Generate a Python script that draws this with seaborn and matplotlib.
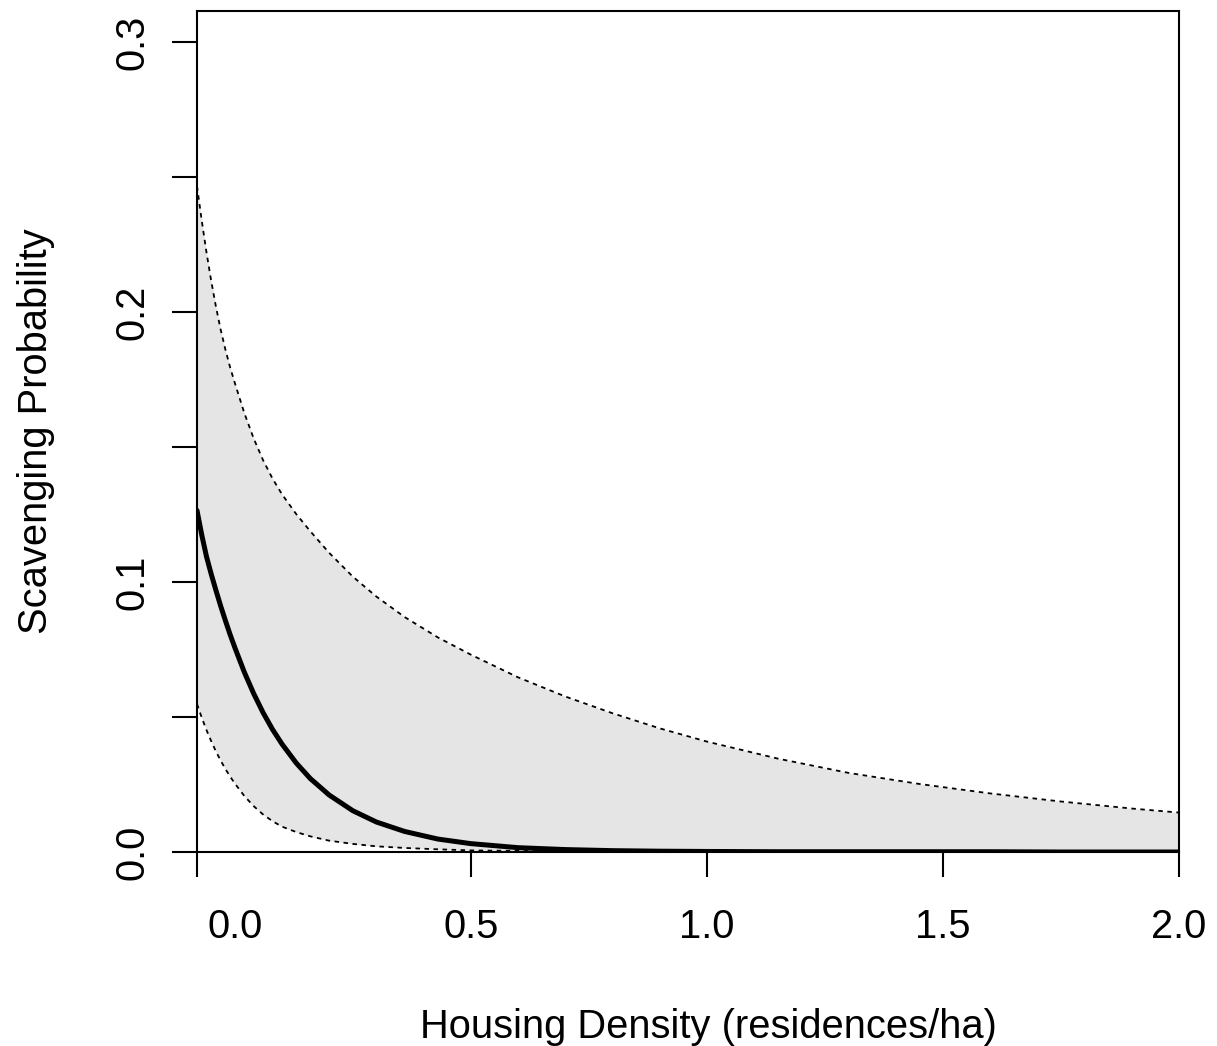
import numpy as np
import pandas as pd
import matplotlib
matplotlib.use("Agg")
import matplotlib.pyplot as plt
import seaborn as sns

# ---- data ----
density = [-0.08, -0.07, -0.06, -0.05, -0.04, -0.03, -0.02, -0.01, 0.00,
           0.02, 0.04, 0.06, 0.08, 0.10, 0.13, 0.16, 0.20, 0.25, 0.30,
           0.36, 0.43, 0.50, 0.60, 0.70, 0.80, 0.90, 1.00, 1.15, 1.30,
           1.45, 1.60, 1.75, 1.90, 2.00]
mean_prob = [0.1265, 0.1175, 0.1095, 0.1030, 0.0970, 0.0912, 0.0858, 0.0806, 0.0758,
             0.0667, 0.0587, 0.0516, 0.0454, 0.0400, 0.0330, 0.0272, 0.0211, 0.0153, 0.0111,
             0.0076, 0.0048, 0.0031, 0.0016, 0.0009, 0.0005, 0.0003, 0.0002, 0.0001, 0.0001,
             0.0001, 0.0001, 0.0000, 0.0000, 0.0000]
lower_ci = [0.0548, 0.0498, 0.0452, 0.0411, 0.0373, 0.0339, 0.0308, 0.0280, 0.0254,
            0.0208, 0.0170, 0.0139, 0.0114, 0.0094, 0.0074, 0.0058, 0.0042, 0.0030, 0.0021,
            0.0015, 0.0010, 0.0006, 0.0004, 0.0002, 0.0001, 0.0001, 0.0000, 0.0000, 0.0000,
            0.0000, 0.0000, 0.0000, 0.0000, 0.0000]
upper_ci = [0.2466, 0.2339, 0.2222, 0.2116, 0.2021, 0.1936, 0.1862, 0.1796, 0.1738,
            0.1627, 0.1532, 0.1451, 0.1383, 0.1325, 0.1252, 0.1188, 0.1108, 0.1020, 0.0946,
            0.0870, 0.0795, 0.0731, 0.0647, 0.0576, 0.0514, 0.0458, 0.0409, 0.0346, 0.0293,
            0.0252, 0.0217, 0.0187, 0.0161, 0.0146]

x_ticks = [0.0, 0.5, 1.0, 1.5, 2.0]
x_tick_labels = ["0.0", "0.5", "1.0", "1.5", "2.0"]
y_ticks = [0.0, 0.05, 0.10, 0.15, 0.20, 0.25, 0.30]
y_tick_labels = ["0.0", "", "0.1", "", "0.2", "", "0.3"]
x_label = "Housing Density (residences/ha)"
y_label = "Scavenging Probability"

# ---- style ----
sns.set_style("ticks")
plt.rcParams["font.family"] = ["Liberation Sans", "DejaVu Sans"]

W, H = 1217, 1046
fig = plt.figure(figsize=(W / 100, H / 100), dpi=100)
left, right, top, bottom = 197, 1179, 11, 852
ax = fig.add_axes([left / W, 1 - bottom / H, (right - left) / W, (bottom - top) / H])

df = pd.DataFrame({"density": density, "mean": mean_prob,
                   "lower": lower_ci, "upper": upper_ci})

ax.fill_between(df["density"], df["lower"], df["upper"], color="#E5E5E5", lw=0, zorder=1)
sns.lineplot(data=df, x="density", y="upper", ax=ax, color="black", lw=1.3,
             estimator=None, sort=False, zorder=2)
ax.lines[-1].set_linestyle((0, (2.5, 2.5)))
sns.lineplot(data=df, x="density", y="lower", ax=ax, color="black", lw=1.3,
             estimator=None, sort=False, zorder=2)
ax.lines[-1].set_linestyle((0, (2.5, 2.5)))
sns.lineplot(data=df, x="density", y="mean", ax=ax, color="black", lw=3.6,
             estimator=None, sort=False, zorder=3)

ax.set_xlim(density[0], 2.0)
ax.set_ylim(0, 0.3115)

for s in ax.spines.values():
    s.set_visible(True)
    s.set_linewidth(1.5)
    s.set_color("black")

fs = 28.7
ax.set_xticks(x_ticks, labels=x_tick_labels)
ax.set_xticks([density[0]], minor=True)
ax.set_yticks(y_ticks, labels=y_tick_labels)
ax.tick_params(axis="both", which="both", direction="out", length=18, width=1.5,
               color="black", labelsize=fs, labelcolor="black")
ax.tick_params(axis="x", which="major", pad=22)
ax.tick_params(axis="y", which="major", pad=15)
ax.xaxis.get_major_ticks()[0].tick1line.set_visible(False)
for lab in ax.get_yticklabels():
    lab.set_rotation(90)
    lab.set_va("center")

ax.set_xlabel(x_label, fontsize=fs, color="black")
ax.set_ylabel(y_label, fontsize=fs, color="black")
ax.xaxis.set_label_coords((708 - left) / (right - left), -(1027 - bottom) / (bottom - top))
ax.xaxis.label.set_va("center")
ax.yaxis.set_label_coords((36 - left) / (right - left), 0.5)
ax.yaxis.label.set_va("center")

fig.savefig("out.png", dpi=100)
